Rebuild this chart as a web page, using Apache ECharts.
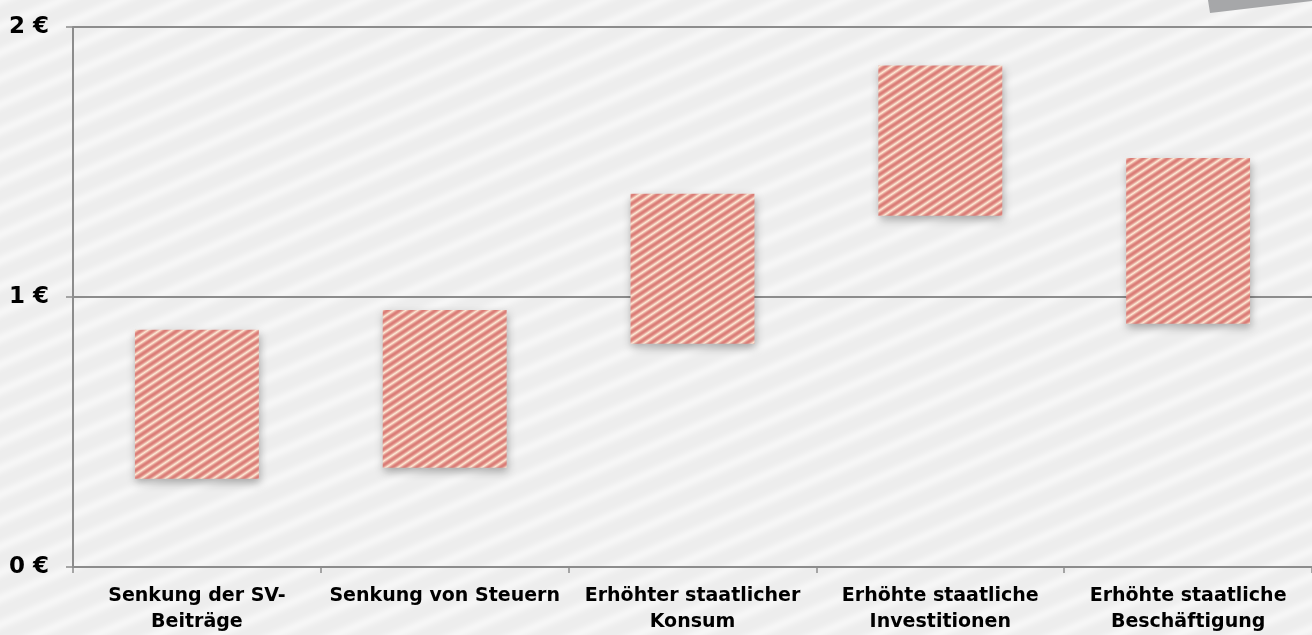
<!DOCTYPE html>
<html>
<head>
<meta charset="utf-8">
<title>Kosten je Euro</title>
<script src="https://cdn.jsdelivr.net/npm/echarts@6/dist/echarts.min.js"></script>
<style>
  html, body { margin: 0; padding: 0; background: #eeeeee; }
  #main { width: 1312px; height: 635px; }
</style>
</head>
<body>
<div id="main"></div>
<script>
// Daten
var categories = [
  'Senkung der SV-\nBeiträge',
  'Senkung von Steuern',
  'Erhöhter staatlicher\nKonsum',
  'Erhöhte staatliche\nInvestitionen',
  'Erhöhte staatliche\nBeschäftigung'
];
var lowValues  = [0.327, 0.368, 0.827, 1.301, 0.901];
var highValues = [0.879, 0.952, 1.382, 1.857, 1.515];
var yTicks = [0, 1, 2];

// Streifenmuster als Canvas-Kachel
function stripeTile(w, h, c1, c2, sharp) {
  var cv = document.createElement('canvas');
  cv.width = w; cv.height = h;
  var ctx = cv.getContext('2d');
  var img = ctx.createImageData(w, h);
  for (var y = 0; y < h; y++) {
    for (var x = 0; x < w; x++) {
      var p = (x / w + y / h) % 1;
      var t = 0.5 + 0.5 * Math.cos(p * Math.PI * 2);
      t = Math.pow(t, sharp);
      var i = (y * w + x) * 4;
      img.data[i]     = Math.round(c1[0] * t + c2[0] * (1 - t));
      img.data[i + 1] = Math.round(c1[1] * t + c2[1] * (1 - t));
      img.data[i + 2] = Math.round(c1[2] * t + c2[2] * (1 - t));
      img.data[i + 3] = 255;
    }
  }
  ctx.putImageData(img, 0, 0);
  return cv;
}

var barPattern = {
  image: stripeTile(12, 8, [218, 124, 118], [253, 232, 212], 0.6),
  repeat: 'repeat'
};
var bgPattern = {
  image: stripeTile(60, 26, [246, 246, 246], [237, 237, 237], 2),
  repeat: 'repeat'
};

var rangeValues = highValues.map(function (v, i) { return +(v - lowValues[i]).toFixed(3); });

var myChart = echarts.init(document.getElementById('main'));
myChart.setOption({
  backgroundColor: bgPattern,
  animation: false,
  grid: { left: 73, right: -11, top: 27, bottom: 64 },
  graphic: [{
    type: 'polygon',
    shape: { points: [[1208, 0], [1312, 0], [1312, 1], [1210, 13]] },
    style: { fill: '#a6a7a9' },
    z: 10
  }],
  xAxis: {
    type: 'category',
    data: categories,
    axisLine: { lineStyle: { color: '#8c8c8c', width: 2 } },
    axisTick: { show: true, length: 6, lineStyle: { color: '#8c8c8c', width: 1.5 } },
    axisLabel: {
      interval: 0,
      margin: 16,
      color: '#000',
      fontFamily: 'DejaVu Sans',
      fontWeight: 'bold',
      fontSize: 19,
      lineHeight: 26
    }
  },
  yAxis: {
    type: 'value',
    min: yTicks[0],
    max: yTicks[yTicks.length - 1],
    interval: 1,
    axisLine: { show: true, lineStyle: { color: '#8c8c8c', width: 2 } },
    axisTick: { show: true, length: 7, lineStyle: { color: '#8c8c8c', width: 1.5 } },
    splitLine: { lineStyle: { color: '#8c8c8c', width: 2 } },
    axisLabel: {
      margin: 24,
      color: '#000',
      fontFamily: 'DejaVu Sans',
      fontWeight: 'bold',
      fontSize: 23,
      formatter: '{value} €'
    }
  },
  series: [
    {
      name: 'Basis',
      type: 'bar',
      stack: 'spanne',
      barWidth: '50%',
      itemStyle: { color: 'transparent' },
      data: lowValues
    },
    {
      name: 'Spanne',
      type: 'bar',
      stack: 'spanne',
      barWidth: '50%',
      itemStyle: {
        color: barPattern,
        shadowBlur: 8,
        shadowOffsetX: 1,
        shadowOffsetY: 4,
        shadowColor: 'rgba(0, 0, 0, 0.3)'
      },
      data: rangeValues
    }
  ]
});
</script>
</body>
</html>
